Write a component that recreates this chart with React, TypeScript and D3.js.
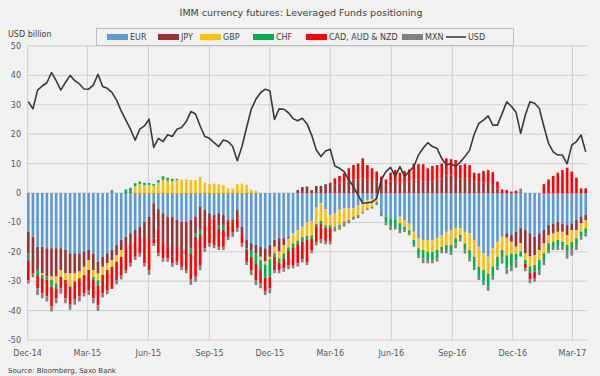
import React from "react";
import * as d3 from "d3";

const seriesKeys = ["EUR", "JPY", "GBP", "CHF", "CAD", "MXN"];
const seriesLabels = ["EUR", "JPY", "GBP", "CHF", "CAD, AUD & NZD", "MXN"];
const seriesColors = ["#5b9bd5", "#993333", "#ffc000", "#00b050", "#ff0000", "#808080"];

const tickLabels = ["Dec-14", "Mar-15", "Jun-15", "Sep-15", "Dec-15", "Mar-16", "Jun-16", "Sep-16", "Dec-16", "Mar-17"];
const yTicks = [-50, -40, -30, -20, -10, 0, 10, 20, 30, 40, 50];

const eur = [-13.2,-14.9,-18.3,-18.3,-18.8,-18.8,-18.8,-18.8,-19.4,-20.5,-20.5,-20.5,-20,-19.4,-20.5,-23.4,-21.7,-20.5,-19.4,-17.7,
-16,-14.9,-13.7,-12.6,-11.5,-9.8,-8,-3.5,-5.5,-6.9,-8,-8,-9.2,-9.8,-9.8,-9.2,-8,-4.6,-5.8,-6.9,
-7.5,-6.9,-7.5,-9.2,-9,-5.8,-11.5,-16,-17.1,-17.7,-18.3,-18.8,-17.7,-16,-15.4,-15.4,-15,-13.7,-12.7,-11.5,
-10,-9.5,-5,-3.5,-5.5,-7.5,-6.9,-5.7,-5.2,-5.2,-5.2,-4.1,-3,-2.4,-2.2,-1.3,-6.4,-8,-8.6,-9.2,
-8,-9.2,-10.4,-13.2,-15.4,-16,-16,-16,-15.4,-14.3,-13.2,-12.6,-12,-12,-13.2,-13.7,-16,-18.3,-20.5,-21.7,
-18.8,-16.6,-14.9,-13.7,-14.3,-13.2,-12,-12.6,-13.7,-14.9,-13.7,-12.6,-10.9,-10.4,-9.8,-10.4,-10.9,-10.4,-9.2,-8,-7.5];

const jpy = [-7.4,-11.3,-7.9,-9,-9.6,-9.6,-9.6,-7.4,-7.9,-6.8,-6.8,-6.2,-5.1,-3.4,-5.7,-4,-3.4,-3.4,-3.4,-3.4,
-3.4,-3.4,-3.4,-3.4,-3.4,-5.1,-8,-12,-6.5,-9.7,-10.3,-13.7,-9.1,-9.6,-9.6,-9.6,-5.7,-8,-5.1,-2.3,
-1.1,-4,-3.4,-0.6,-1,-2.8,-2.2,-2.8,-2.3,-2.8,-3.4,-4.5,-4,-2.3,-4.5,-2.3,-0.5,0,1,2,
2.2,1,2.4,2.4,3,3.5,3,3.5,3.7,4,4.5,4.5,5,4.5,4.5,4,3.5,3,4,4,
3.5,3.5,4,4.5,4.5,4,4,4,4.5,5,6,6,5.5,5,5,5,4,3.5,3.5,3.5,
3,1.5,0,-1.5,-2.3,-5.1,-5.1,-7.9,-7.9,-6.2,-5.7,-4.5,-3.4,-3.4,-3.4,-2.8,-3.4,-2.3,-3.4,-2.3,-1.7];

const gbp = [0,0,0,-0.6,0,-1.1,-2.3,-2.3,-2.3,-4.5,-2.8,-2.3,-2.8,-3.4,-2.3,-2.3,-2.8,-2.3,-2.3,-2.3,
-2.3,0,0,2.3,3,2.7,2.8,2.5,3.5,4.5,4.2,4,4.4,4.6,4.6,4.4,4.4,5.5,3.5,3,
3.2,3,2.7,1.6,1.5,3,3.2,2.8,1.2,0.8,-1.1,-1,-0.8,-2.2,-2.3,-2.8,-3,-3.5,-3.5,-3.5,
-4.5,-5,-5.5,-6,-5.5,-3.5,-4.5,-5.1,-4.5,-4,-2.8,-3.4,-3.4,-2.8,-2.5,-1.7,0,0,0,0,
-2.3,-2.3,-2.3,-2.8,-3.4,-3.4,-4,-4,-4,-4,-4.5,-5.1,-3.4,-2.3,-4,-5.7,-5.7,-6.8,-5.7,-5.7,
-6.2,-5.1,-4.5,-6,-4,-2.3,-2.8,-2.3,-3.4,-3.4,-3.4,-3.4,-2.8,-2.8,-2.8,-3.4,-3.4,-4,-2.8,-2.8,-2.8];

const chf = [-2.3,0,-1.7,-1.1,-1.1,-2.3,-1.7,0,0,0,0,0,0,0,-1.1,-1.7,0,0,0,0,
0,1.2,1.8,1,0.9,0.8,0.6,0.6,0.9,1.2,1,0.8,0.4,0,0,-1.7,-1.2,-1.7,0,0,
0,-1.1,-1.7,0,0,0,0,-0.6,-2.3,-3.4,-3.4,-4.5,-6,-1.2,-1.5,-1.7,-1.2,-1.5,-1.2,-1.5,
-1.5,-1,-0.8,-0.8,-0.8,-0.8,0,0,0,0,0,0,0,0,0,0,0,-2,-2.3,-2.3,
-2.3,-1,-1.1,-1.7,-2.3,-2.8,-2.8,-2.8,-2.8,-1.1,-1.7,-2.3,-1.7,-1.1,-2.3,-2.8,-3.4,-3.4,-4,-4.5,
-3.4,-3.4,-2.3,-4.5,-4.5,-2.3,-1.7,-1.3,-2,-2.3,-3.4,-2.3,-2.8,-1.7,-2.3,-1.7,-2.3,-2.3,-2.3,-1.7,-1.7];

const cad = [-6.8,-1.1,-4.5,-5.1,-5.7,-6.8,-3.4,-4,-6.2,-6.2,-6.2,-6.2,-6.2,-6.8,-6.2,-6.8,-6.2,-6.8,-7.5,-6.2,
-6.2,-7.9,-6.8,-5.7,-5.7,-9,-10.2,-1.5,-8.5,-5.6,-3.9,-2.2,-5.1,-5.7,-6.8,-9,-13.6,-10.2,-7.9,-7.9,
-9.1,-6.3,-5.7,-5.1,-3.5,-3.4,-3.4,-4,-4.5,-5.7,-4.5,-4.5,-3.9,-4.5,-2.5,-3.4,-5,-5.8,-6.5,-6,
-7.5,-4,-5.5,-5.5,-4.5,-4.5,2,2.3,3,4.4,5,5.5,6.8,5,3.9,3.3,2.1,1.6,2.9,3.8,
3.4,4,4,5.5,5.3,5.8,4.4,5.2,5,5,5.8,5.5,5.7,4.5,4.9,4.5,2.9,3.2,4,4.3,
4.1,2.4,1.2,1,0.5,0.8,0,-1.5,-2.3,-2.3,0,3,4.6,5.8,6.9,7.8,8.6,7.3,5.2,1.6,1.6];

const mxn = [-1.1,-1.4,-2.3,-1.7,-1.7,-1.7,-1.7,-1.7,-1.7,-1.7,-1.7,-1.7,-1.1,-1.7,-1.7,-1.9,-1.4,-1.4,1,-1.5,
-1.5,-1.1,-1.1,-1.1,-1.1,-1.1,-1.7,-1,-1,-1.2,-1.2,-1.2,-1.1,-1.1,-1.1,-1.7,-1.7,-1.7,-1.2,-1.2,
-1.1,-1.1,-1.1,-1.1,-1.4,-1.2,-1.2,-1.1,-1.7,-1.7,-1.7,-1.4,-1.7,-1.1,-1.1,-1.2,-1.2,-1.1,-1.1,-1.1,
-1,-1,-1,-1.3,-1.2,-1.2,-1.7,-1.7,-1.7,-1.1,-1.1,-1.1,-0.6,-0.6,-0.6,-1.1,-1.5,-1,-1.7,-0.9,
-1.1,-0.8,-0.6,-0.6,-1.1,-1.7,-1.1,-1.1,-1.1,-1.1,-1.1,-1.1,-1.7,-1.1,-1.1,-1.1,-1.1,-1.1,-1.1,-1.4,
-1.1,-1.1,-2.3,-1.8,-1.5,-2.5,1.5,-1,-1.4,-1.1,-1.7,-1.7,-0.6,-1.1,-1.1,-1.1,-2.3,-2.3,-1.7,-1.1,-1.1];

const usd = [31.1,28.6,35,36.4,37.5,41,38.2,35,37.6,40,38.2,37.1,35.4,35.3,36.7,40.4,36.2,35.6,34.2,31.6,
27.9,24.8,21.7,18,21.7,22.8,25.1,15.5,18.6,17.5,19.8,19.2,21.7,22.3,24.3,27.7,26.9,22.8,19.2,18.6,
17.1,15.8,18,17.5,15.8,11,15.8,22.3,28.5,31.9,34.1,35.3,34.8,25,28.6,28.5,27.3,25.3,24.6,25.4,
23.5,19.7,14.6,12.4,14.3,14.9,9.2,8.4,7.3,4.4,2.2,-0.7,-3.5,-3.3,-3.1,-1.8,4.6,7.3,8.7,5.6,
9,5.6,7.3,9,12.9,15.2,17.1,15.8,15.2,11.8,9.5,10,9,10.5,12.4,14.5,20,23.7,24.8,26.2,
23.1,23.1,27,31,29.5,27.5,20.3,26.5,31,30.5,28.8,22.6,16.9,14,12.9,12.9,9.9,16.3,17.5,19.7,14];

const firstWeek = Date.UTC(2014, 11, 2);
const weeks = usd.map((_, i) => d3.utcDay.offset(new Date(firstWeek), 7 * i));

export default function App() {
  const W = 600, H = 376;
  const left = 28, right = 587, top = 46, bottom = 340;
  const x = d3.scaleUtc()
    .domain([weeks[0], weeks[weeks.length - 1]])
    .range([28.3, 585.7]);
  const y = d3.scaleLinear().domain([-50, 50]).range([bottom, top]);

  const rows = weeks.map((d, i) => ({
    date: d, EUR: eur[i], JPY: jpy[i], GBP: gbp[i], CHF: chf[i], CAD: cad[i], MXN: mxn[i],
  }));
  const stacked = d3.stack<any>().keys(seriesKeys).offset(d3.stackOffsetDiverging)(rows);

  const tickDates = d3.utcMonth.range(new Date(Date.UTC(2014, 11, 1)), new Date(Date.UTC(2017, 3, 1)), 3);

  const line = d3.line<number>()
    .x((_, i) => x(weeks[i]))
    .y((v) => y(v));

  const barW = 2.6;
  const font = "DejaVu Sans, Verdana, sans-serif";

  const legendX = [107, 158, 200, 253, 306, 402];

  return (
    <svg width={W} height={H} style={{ position: "absolute", left: 0, top: 0 }} fontFamily={font}>
      <rect x={0} y={0} width={W} height={H} fill="#f2f2f2" />
      <text x={301} y={16} textAnchor="middle" fontSize={9.5} fill="#404040">
        IMM currency futures: Leveraged Funds positioning
      </text>
      <text x={8} y={37} fontSize={8} fill="#404040">USD billion</text>

      {yTicks.map((t) => (
        <g key={"y" + t}>
          <line x1={left} x2={right} y1={y(t)} y2={y(t)} stroke="#cfcfcf" strokeWidth={1} />
          <text x={21} y={y(t) + 3} textAnchor="end" fontSize={8} fill="#595959">{t}</text>
        </g>
      ))}
      {tickDates.map((d, i) => (
        <g key={"x" + i}>
          <line x1={x(d)} x2={x(d)} y1={top} y2={bottom} stroke="#cfcfcf" strokeWidth={1} />
          <text x={x(d)} y={356} textAnchor="middle" fontSize={8} fill="#595959">{tickLabels[i]}</text>
        </g>
      ))}

      {stacked.map((s, si) => (
        <g key={s.key} fill={seriesColors[si]}>
          {s.map((p, i) => {
            const y0 = y(p[0]), y1 = y(p[1]);
            const h = Math.abs(y0 - y1);
            if (h < 0.01) return null;
            return (
              <rect key={i} x={x(weeks[i]) - barW / 2} width={barW} y={Math.min(y0, y1)} height={h} />
            );
          })}
        </g>
      ))}

      <path d={line(usd) || ""} fill="none" stroke="#3a3a3a" strokeWidth={1.6} strokeLinejoin="round" />

      <rect x={96.5} y={28.5} width={417} height={17} fill="#f2f2f2" stroke="#bdbdbd" />
      {seriesKeys.map((k, i) => (
        <g key={"lg" + k}>
          <rect x={legendX[i]} y={34} width={21} height={6} fill={seriesColors[i]} />
          <text x={legendX[i] + 23} y={40} fontSize={8} fill="#404040">{seriesLabels[i]}</text>
        </g>
      ))}
      <line x1={446} x2={466} y1={37} y2={37} stroke="#3a3a3a" strokeWidth={1.6} />
      <text x={468} y={40} fontSize={8} fill="#404040">USD</text>

      <text x={8} y={373} fontSize={7} fill="#404040">Source: Bloomberg, Saxo Bank</text>
    </svg>
  );
}
